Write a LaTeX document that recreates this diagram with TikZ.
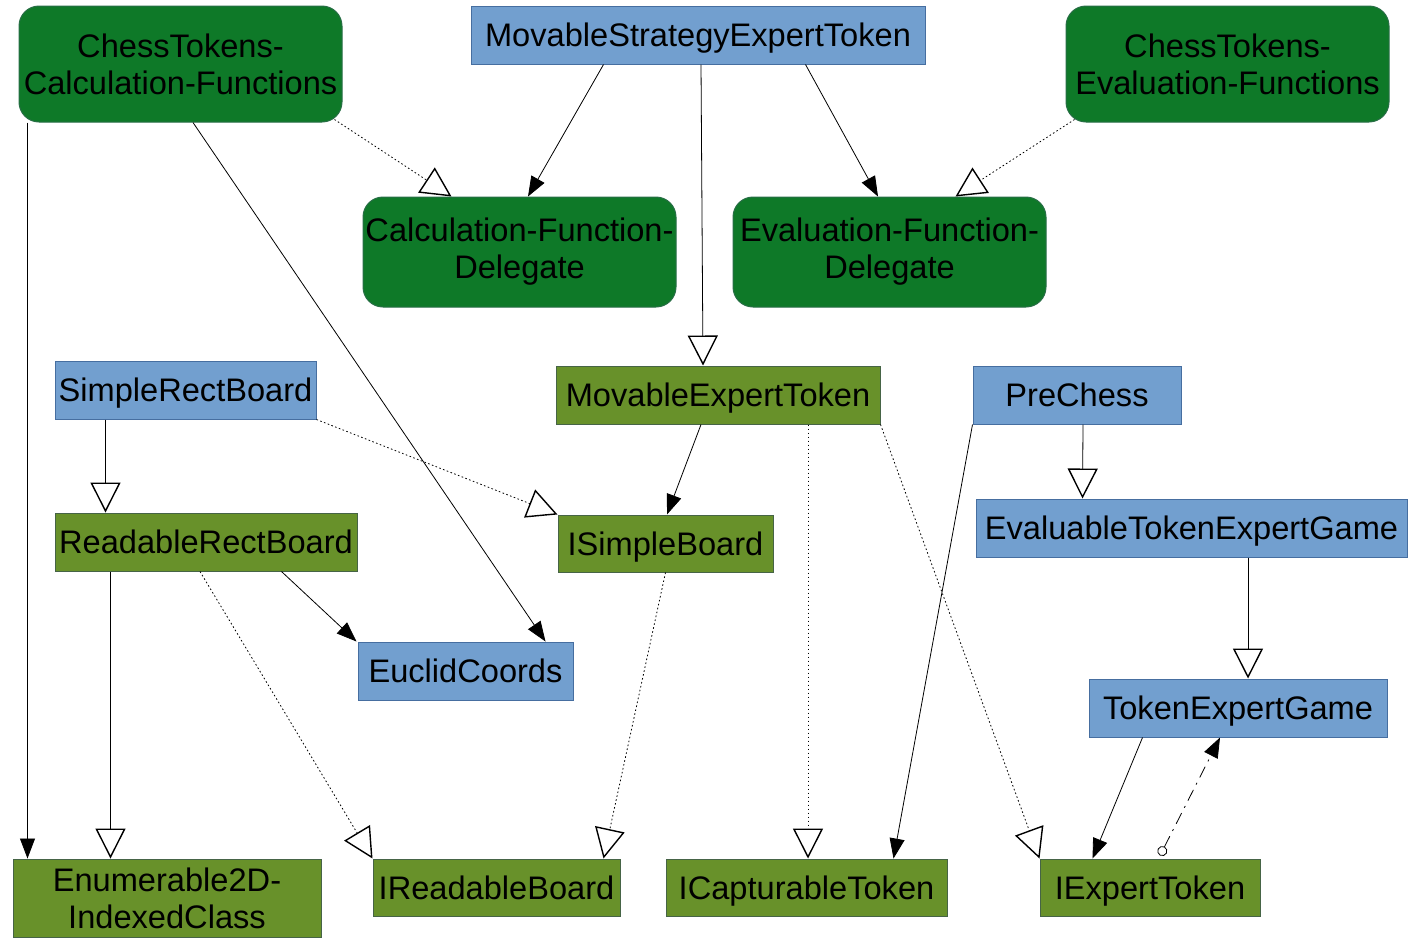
\documentclass[tikz,border=0pt]{standalone}
\usepackage{fontspec}
\setmainfont{Liberation Sans}
\usetikzlibrary{arrows.meta,calc}
\definecolor{clsblue}{RGB}{114,159,207}
\definecolor{clsblueline}{RGB}{70,110,160}
\definecolor{ifgreen}{RGB}{104,145,42}
\definecolor{ifgreenline}{RGB}{70,100,70}
\definecolor{fngreen}{RGB}{14,121,40}
\definecolor{fngreenline}{RGB}{40,110,70}

\begin{document}
\begin{tikzpicture}[x=0.5pt,y=-0.5pt,
		box/.style={line width=0.5pt, inner sep=0pt, align=center, text=black,
			font=\fontsize{16.3}{18.5}\selectfont},
		single/.style={text height=15.1pt, text depth=3.4pt},
		classbox/.style={box, single, fill=clsblue, draw=clsblueline},
		ifacebox/.style={box, fill=ifgreen, draw=ifgreenline},
		funcbox/.style={box, fill=fngreen, draw=fngreenline, rounded corners=10pt},
		uses/.style={line width=0.4pt, -{Triangle[length=10pt,width=7.5pt]}},
		inherit/.style={line width=0.4pt, -{Triangle[open,length=15pt,width=15pt,fill=white,line width=0.7pt]}},
		realize/.style={inherit, dash pattern=on 0.8pt off 1.2pt},
		owner/.style={line width=0.4pt, dash pattern=on 6pt off 3pt on 1pt off 3pt,
			{Circle[open,length=5pt,width=5pt,fill=white]}-{Triangle[length=10pt,width=7.5pt]}}]
		\useasboundingbox (0,0) rectangle (1411,939);
		% functions and delegates
		\node[funcbox, minimum width=161.5pt, minimum height=58pt] (calcfn) at (180.5,64) {ChessTokens-\\Calculation-Functions};
		\node[funcbox, minimum width=161.5pt, minimum height=58pt] (evalfn) at (1227.5,64) {ChessTokens-\\Evaluation-Functions};
		\node[funcbox, minimum width=156.5pt, minimum height=55pt] (calcdel) at (519.5,252) {Calculation-Function-\\Delegate};
		\node[funcbox, minimum width=156.5pt, minimum height=55pt] (evaldel) at (889.5,252) {Evaluation-Function-\\Delegate};
		% classes
		\node[classbox, minimum width=227pt, minimum height=29pt] (strattoken) at (698,35) {MovableStrategyExpertToken};
		\node[classbox, minimum width=130.5pt, minimum height=29pt] (simpleboard) at (185.5,390) {SimpleRectBoard};
		\node[classbox, minimum width=104pt, minimum height=29pt] (prechess) at (1077,395) {PreChess};
		\node[classbox, minimum width=215.5pt, minimum height=29pt] (evalgame) at (1191.5,528) {EvaluableTokenExpertGame};
		\node[classbox, minimum width=107.5pt, minimum height=29pt] (euclid) at (465.5,671) {EuclidCoords};
		\node[classbox, minimum width=149pt, minimum height=29pt] (tokengame) at (1238,708) {TokenExpertGame};
		% green classes and interfaces
		\node[ifacebox, single, minimum width=162pt, minimum height=29pt] (movtoken) at (718,395) {MovableExpertToken};
		\node[ifacebox, single, minimum width=151pt, minimum height=29pt] (readboard) at (206,542) {ReadableRectBoard};
		\node[ifacebox, single, minimum width=107.5pt, minimum height=28.5pt] (isimple) at (665.5,543.5) {ISimpleBoard};
		\node[ifacebox, minimum width=154pt, minimum height=39pt] (enumcls) at (167,898) {Enumerable2D-\\IndexedClass};
		\node[ifacebox, single, minimum width=123.5pt, minimum height=28.5pt] (ireadable) at (496.5,887.5) {IReadableBoard};
		\node[ifacebox, single, minimum width=140.5pt, minimum height=28.5pt] (icapture) at (806.5,887.5) {ICapturableToken};
		\node[ifacebox, single, minimum width=110pt, minimum height=28.5pt] (iexpert) at (1150,887.5) {IExpertToken};

		% connectors
		\draw[uses] ($(calcfn.south west)+(9,0)$) -- ($(enumcls.north west)+(15,0)$);
		\draw[uses] ($(calcfn.south)+(12.5,0)$) -- ($(euclid.north east)+(-28,0)$);
		\draw[realize] ($(calcfn.south east)+(-8,-3)$) -- ($(calcdel.north west)+(89,0)$);
		\draw[uses] ($(strattoken.south west)+(133,0)$) -- ($(calcdel.north)+(8.5,0)$);
		\draw[inherit] ($(strattoken.south)+(3,0)$) -- ($(movtoken.north)+(-15,0)$);
		\draw[uses] ($(strattoken.south east)+(-120,0)$) -- ($(evaldel.north)+(-11.5,0)$);
		\draw[realize] ($(evalfn.south west)+(9,-3)$) -- ($(evaldel.north east)+(-91,0)$);
		\draw[inherit] ($(simpleboard.south west)+(51,0)$) -- ($(readboard.north west)+(51,0)$);
		\draw[realize] (simpleboard.south east) -- (isimple.north west);
		\draw[uses] ($(movtoken.south)+(-17,0)$) -- ($(isimple.north)+(1.5,0)$);
		\draw[realize] ($(movtoken.south)+(90,0)$) -- ($(icapture.north)+(1.5,0)$);
		\draw[realize] (movtoken.south east) -- (iexpert.north west);
		\draw[inherit] ($(prechess.south)+(6,0)$) -- ($(evalgame.north west)+(107,0)$);
		\draw[uses] (prechess.south west) -- ($(icapture.north east)+(-54,0)$);
		\draw[inherit] ($(readboard.south west)+(56,0)$) -- ($(enumcls.north west)+(98,0)$);
		\draw[uses] ($(readboard.south east)+(-76,0)$) -- ($(euclid.north west)+(-1,0)$);
		\draw[realize] ($(readboard.south)+(-6,0)$) -- (ireadable.north west);
		\draw[realize] (isimple.south) -- ($(ireadable.north east)+(-17,0)$);
		\draw[inherit] ($(evalgame.south)+(56.5,0)$) -- ($(tokengame.north)+(10,0)$);
		\draw[uses] ($(tokengame.south west)+(54,0)$) -- ($(iexpert.north west)+(53,0)$);
		\draw[owner] ($(iexpert.north)+(10,-3)$) -- ($(tokengame.south)+(-18,0)$);
\end{tikzpicture}
\end{document}
